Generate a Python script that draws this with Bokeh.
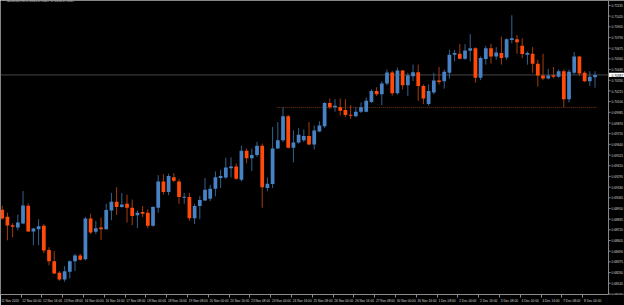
from bokeh.plotting import figure
from bokeh.models import Range1d, FixedTicker, Span, Label, ColumnDataSource
from bokeh.core.properties import value
from bokeh.embed import file_html
from bokeh.resources import INLINE

symbol = "NZDUSD,H4"

opens = [0.68937, 0.68862, 0.68770, 0.68746, 0.68788, 0.68979, 0.68703, 0.68727, 0.68764, 0.68504,
         0.68381, 0.68257, 0.68186, 0.68268, 0.68381, 0.68445, 0.68403, 0.68841, 0.68700, 0.68746,
         0.68727, 0.68929, 0.69022, 0.68965, 0.69000, 0.68958, 0.68876, 0.68912, 0.68905, 0.68764,
         0.68958, 0.69241, 0.69128, 0.69287, 0.69241, 0.69064, 0.69072, 0.68844, 0.68976, 0.69035,
         0.69054, 0.69163, 0.69277, 0.69284, 0.69383, 0.69401, 0.69258, 0.69571, 0.69489, 0.69524,
         0.69624, 0.69170, 0.69213, 0.69595, 0.69683, 0.69942, 0.69603, 0.69659, 0.69683, 0.69730,
         0.69638, 0.69779, 0.69836, 0.70084, 0.70038, 0.70038, 0.70009, 0.69959, 0.69942, 0.69991,
         0.69991, 0.70097, 0.70214, 0.70179, 0.70296, 0.70413, 0.70190, 0.70434, 0.70275, 0.70374,
         0.70416, 0.70267, 0.70073, 0.70197, 0.70328, 0.70320, 0.70410, 0.70604, 0.70615, 0.70562,
         0.70647, 0.70675, 0.70357, 0.70558, 0.70675, 0.70586, 0.70622, 0.70575, 0.70763, 0.70771,
         0.70700, 0.70604, 0.70615, 0.70508, 0.70381, 0.70349, 0.70384, 0.70367, 0.70427, 0.70126,
         0.70410, 0.70586, 0.70410, 0.70320, 0.70363]
highs = [0.68979, 0.68905, 0.68791, 0.68884, 0.69138, 0.69004, 0.68740, 0.68834, 0.68781, 0.68533,
         0.68491, 0.68275, 0.68328, 0.68392, 0.68462, 0.68462, 0.68859, 0.68894, 0.68817, 0.68852,
         0.69000, 0.69117, 0.69178, 0.69117, 0.69099, 0.69046, 0.68929, 0.68976, 0.68940, 0.68976,
         0.69308, 0.69319, 0.69324, 0.69330, 0.69266, 0.69117, 0.69117, 0.69000, 0.69082, 0.69277,
         0.69205, 0.69348, 0.69365, 0.69496, 0.69500, 0.69436, 0.69624, 0.69595, 0.69595, 0.69666,
         0.69648, 0.69284, 0.69826, 0.69879, 0.70038, 0.69956, 0.69790, 0.69815, 0.69800, 0.69879,
         0.69843, 0.69889, 0.70097, 0.70134, 0.70126, 0.70134, 0.70126, 0.70062, 0.70038, 0.70091,
         0.70144, 0.70232, 0.70254, 0.70317, 0.70445, 0.70434, 0.70466, 0.70439, 0.70410, 0.70498,
         0.70498, 0.70285, 0.70285, 0.70410, 0.70473, 0.70445, 0.70657, 0.70657, 0.70721, 0.70718,
         0.70827, 0.70684, 0.70586, 0.70700, 0.70721, 0.70686, 0.70798, 0.70781, 0.71029, 0.70816,
         0.70781, 0.70639, 0.70686, 0.70551, 0.70615, 0.70452, 0.70473, 0.70445, 0.70445, 0.70445,
         0.70633, 0.70593, 0.70427, 0.70427, 0.70427]
lows = [0.68830, 0.68607, 0.68639, 0.68714, 0.68781, 0.68698, 0.68554, 0.68554, 0.68469, 0.68339,
        0.68243, 0.68172, 0.68161, 0.68196, 0.68278, 0.68392, 0.68392, 0.68674, 0.68674, 0.68611,
        0.68721, 0.68823, 0.68880, 0.68958, 0.68799, 0.68770, 0.68738, 0.68859, 0.68738, 0.68753,
        0.68905, 0.69099, 0.69093, 0.69234, 0.69000, 0.69000, 0.68817, 0.68781, 0.68834, 0.69029,
        0.69029, 0.69082, 0.69170, 0.69269, 0.69284, 0.69258, 0.69241, 0.69436, 0.69354, 0.69507,
        0.68958, 0.69135, 0.69170, 0.69590, 0.69666, 0.69595, 0.69446, 0.69648, 0.69666, 0.69630,
        0.69585, 0.69772, 0.69815, 0.70020, 0.69991, 0.69949, 0.69932, 0.69914, 0.69932, 0.69977,
        0.69985, 0.70084, 0.70161, 0.70062, 0.70275, 0.70163, 0.70174, 0.70232, 0.70161, 0.70320,
        0.70108, 0.70073, 0.70055, 0.70179, 0.70285, 0.70240, 0.70349, 0.70533, 0.70556, 0.70551,
        0.70533, 0.70304, 0.70331, 0.70498, 0.70508, 0.70551, 0.70498, 0.70551, 0.70728, 0.70615,
        0.70569, 0.70498, 0.70410, 0.70261, 0.70331, 0.70339, 0.70349, 0.70357, 0.70038, 0.70091,
        0.70392, 0.70374, 0.70310, 0.70267, 0.70250]
closes = [0.68841, 0.68767, 0.68753, 0.68799, 0.68982, 0.68703, 0.68735, 0.68759, 0.68498, 0.68381,
          0.68250, 0.68186, 0.68275, 0.68381, 0.68445, 0.68398, 0.68841, 0.68692, 0.68738, 0.68727,
          0.68934, 0.69022, 0.68965, 0.68993, 0.68958, 0.68870, 0.68905, 0.68894, 0.68764, 0.68965,
          0.69241, 0.69128, 0.69298, 0.69248, 0.69072, 0.69075, 0.68844, 0.68976, 0.69040, 0.69152,
          0.69163, 0.69287, 0.69298, 0.69390, 0.69401, 0.69269, 0.69571, 0.69489, 0.69524, 0.69624,
          0.69178, 0.69216, 0.69595, 0.69683, 0.69942, 0.69603, 0.69659, 0.69744, 0.69730, 0.69638,
          0.69790, 0.69843, 0.70084, 0.70038, 0.70055, 0.70002, 0.69956, 0.69949, 0.69991, 0.70038,
          0.70108, 0.70214, 0.70179, 0.70296, 0.70413, 0.70190, 0.70434, 0.70275, 0.70384, 0.70416,
          0.70267, 0.70134, 0.70214, 0.70328, 0.70310, 0.70420, 0.70604, 0.70622, 0.70562, 0.70650,
          0.70675, 0.70357, 0.70569, 0.70675, 0.70586, 0.70628, 0.70569, 0.70771, 0.70781, 0.70739,
          0.70611, 0.70622, 0.70508, 0.70381, 0.70349, 0.70381, 0.70367, 0.70427, 0.70126, 0.70420,
          0.70586, 0.70402, 0.70320, 0.70367, 0.70387]

x_labels = ["11 Nov 2020", "12 Nov 00:00", "12 Nov 16:00", "13 Nov 08:00", "16 Nov 00:00",
            "16 Nov 16:00", "17 Nov 08:00", "18 Nov 00:00", "18 Nov 16:00", "19 Nov 08:00",
            "20 Nov 00:00", "20 Nov 16:00", "23 Nov 08:00", "24 Nov 00:00", "24 Nov 16:00",
            "25 Nov 08:00", "26 Nov 00:00", "26 Nov 16:00", "27 Nov 08:00", "30 Nov 00:00",
            "30 Nov 16:00", "1 Dec 08:00", "2 Dec 00:00", "2 Dec 16:00", "3 Dec 08:00",
            "4 Dec 00:00", "4 Dec 16:00", "7 Dec 08:00", "8 Dec 00:00"]
x_label_bars = list(range(0, 4 * len(x_labels), 4))

y_ticks = [0.71135, 0.71020, 0.70905, 0.70790, 0.70675, 0.70560, 0.70445, 0.70330, 0.70215,
           0.70100, 0.69985, 0.69870, 0.69755, 0.69640, 0.69525, 0.69410, 0.69295, 0.69180,
           0.69065, 0.68950, 0.68835, 0.68720, 0.68605, 0.68490, 0.68375, 0.68260, 0.68145,
           0.68030]

level_price = 0.70037
level_start_bar = 52.9
level_end_bar = 114.3

BULL = "#4682c4"
BEAR = "#ff4a0a"
BULL_WICK = "#33628f"
BEAR_WICK = "#a63c0c"
AXIS = "#8c8c8c"
TEXT = "#d4d4d4"
FONT = "Liberation Sans"

# layout in bar units (5.2 px per bar); price scale sits at the right of the chart area
PX = 5.2
X0, X1 = -0.33, 119.67
SCALE_X = 116.6
Y0, Y1 = 0.68024, 0.71188
PPX = (Y1 - Y0) / 298.0

n = len(opens)
up = [c >= o for o, c in zip(opens, closes)]


def subset(flag):
    ids = [i for i in range(n) if up[i] == flag]
    return ColumnDataSource(dict(
        x=ids,
        top=[max(opens[i], closes[i]) for i in ids],
        bottom=[min(opens[i], closes[i]) for i in ids],
        high=[highs[i] for i in ids],
        low=[lows[i] for i in ids],
    ))


p = figure(width=624, height=305, output_backend="svg", toolbar_location=None,
           x_range=Range1d(X0, X1), y_range=Range1d(Y0, Y1),
           x_axis_location="below", y_axis_location=None,
           min_border_left=0, min_border_top=0, min_border_right=0, min_border_bottom=7,
           background_fill_color="black", border_fill_color="black")
p.xgrid.visible = False
p.ygrid.visible = False
p.outline_line_color = None

# window frame (left / top) and price-scale line
p.add_layout(Span(location=X0, dimension="height", line_color=AXIS, line_width=1))
p.add_layout(Span(location=Y1, dimension="width", line_color=AXIS, line_width=1))
p.add_layout(Span(location=SCALE_X, dimension="height", line_color=AXIS, line_width=1))

# current price line
p.segment(x0=[X0], y0=[closes[-1]], x1=[SCALE_X], y1=[closes[-1]], line_color="#474747", line_width=1)

# horizontal level (dotted)
p.line([level_start_bar, level_end_bar], [level_price, level_price],
       line_color="#7a3812", line_width=1, line_dash="1 1")

for flag, body, wick in ((True, BULL, BULL_WICK), (False, BEAR, BEAR_WICK)):
    src = subset(flag)
    p.segment(x0="x", y0="low", x1="x", y1="high", source=src, line_color=wick, line_width=1)
    p.vbar(x="x", width=0.72, top="top", bottom="bottom", source=src,
           fill_color=body, line_color=None)

# price scale: tick dashes and labels
p.segment(x0=[SCALE_X] * len(y_ticks), y0=y_ticks, x1=[SCALE_X + 2 / PX] * len(y_ticks), y1=y_ticks,
          line_color=AXIS, line_width=1)
p.text(x=[SCALE_X + 3 / PX] * len(y_ticks), y=y_ticks, text=["%.5f" % t for t in y_ticks],
       text_font=value(FONT), text_font_size="3.2px", text_color=TEXT,
       text_align="left", text_baseline="middle")

# current price box
p.quad(left=[SCALE_X + 0.4 / PX], right=[SCALE_X + 15.4 / PX],
       bottom=[closes[-1] - 2.1 * PPX], top=[closes[-1] + 2.1 * PPX],
       fill_color="white", line_color=None)
p.text(x=[SCALE_X + 3 / PX], y=[closes[-1]], text=["%.5f" % closes[-1]],
       text_font=value(FONT), text_font_size="3.2px", text_color="black",
       text_align="left", text_baseline="middle")

# bottom time axis (labels start just right of each separator tick)
sep = [b - 0.35 for b in x_label_bars]
centers = [s + (1 + 0.8 * len(lbl)) / PX for s, lbl in zip(sep, x_labels)]
xax = p.xaxis[0]
xax.bounds = (X0, SCALE_X)
xax.ticker = FixedTicker(ticks=centers, minor_ticks=sep)
xax.major_label_overrides = {c: lbl for c, lbl in zip(centers, x_labels)}
xax.major_label_text_font_size = "3.2px"
xax.major_label_text_font = FONT
xax.major_label_text_color = TEXT
xax.axis_line_color = AXIS
xax.major_tick_line_color = None
xax.major_tick_out = 0
xax.major_tick_in = 0
xax.minor_tick_line_color = AXIS
xax.minor_tick_out = 3
xax.minor_tick_in = 0
xax.major_label_standoff = 1

title_text = "%s  %.5f %.5f %.5f %.5f" % (symbol, opens[-1], highs[-1], lows[-1], closes[-1])
p.add_layout(Label(x=2, y=294, x_units="screen", y_units="screen", text="\u25bc",
                   text_font="DejaVu Sans", text_font_size="2.6px", text_color=TEXT,
                   text_baseline="middle"))
p.add_layout(Label(x=6, y=294, x_units="screen", y_units="screen", text=title_text,
                   text_font=FONT, text_font_size="3.2px", text_color=TEXT,
                   text_baseline="middle"))

open("out.html", "w").write(file_html(p, INLINE))
